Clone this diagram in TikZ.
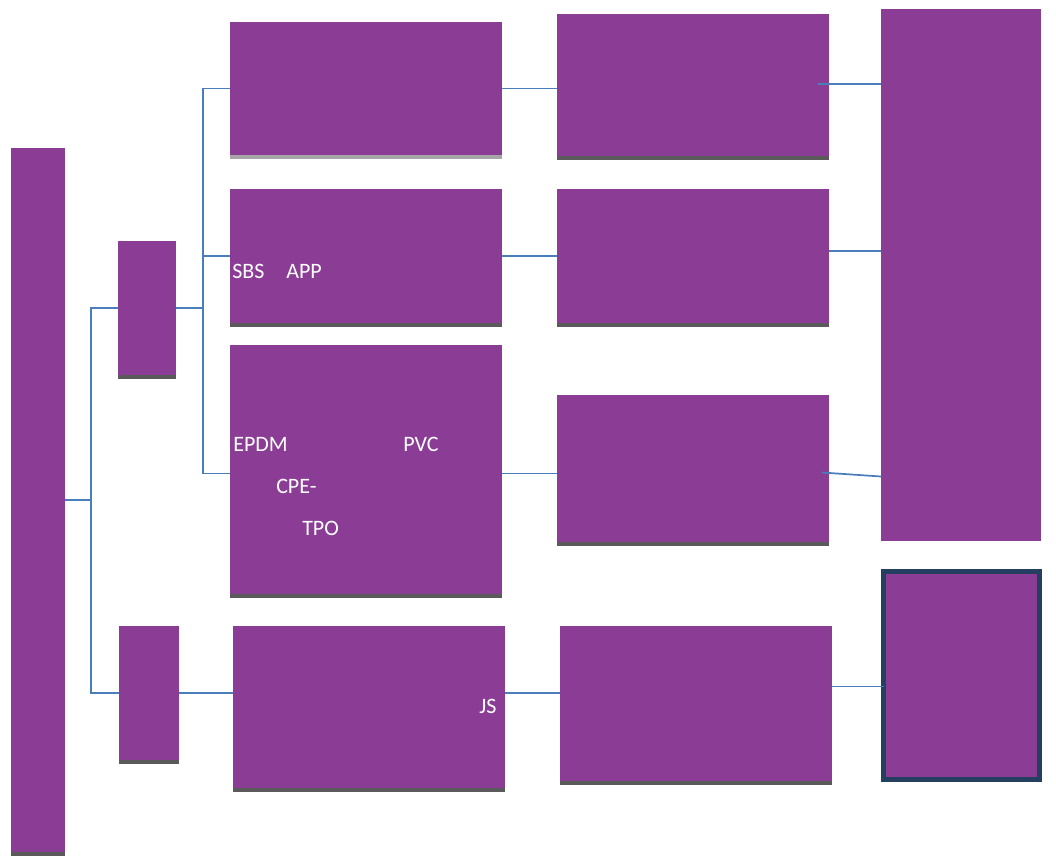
\documentclass[tikz,border=0pt]{standalone}
\usepackage{fontspec}
\setmainfont{Carlito}
\usepackage{xcolor}
\usetikzlibrary{fit,calc}
\definecolor{boxP}{HTML}{8B3D96}
\definecolor{shd}{HTML}{5A5A5A}
\definecolor{shdL}{HTML}{A6A6A6}
\definecolor{lnk}{HTML}{4A7EBB}
\definecolor{frm}{HTML}{243F60}
\tikzset{
  bar/.style={fill=boxP,inner sep=0pt,outer sep=0pt},
  link/.style={draw=lnk,line width=1.3pt},
  lbl/.style={text=white,inner sep=0pt,anchor=base west,font=\fontsize{16.5}{18}\selectfont}
}
% gray strip under a box
\newcommand{\under}[2][shd]{\fill[#1] (#2.south west) rectangle ($(#2.south east)+(0,4)$);}

\begin{document}
\begin{tikzpicture}[x=0.75pt,y=-0.75pt]
\useasboundingbox (0,0) rectangle (1056,857);
% left column
\node[bar,fit={(11,148)(65,852)}] (root) {};
\node[bar,fit={(118,241)(176,375)}] (grpA) {};
\node[bar,fit={(119,626)(179,760)}] (grpB) {};
% middle columns
\node[bar,fit={(230,22)(502,155)}] (A1) {};
\node[bar,fit={(230,189)(502,323)}] (A2) {};
\node[bar,fit={(230,345)(502,594)}] (A3) {};
\node[bar,fit={(233,626)(505,788)}] (B) {};
\node[bar,fit={(557,14)(829,156)}] (C1) {};
\node[bar,fit={(557,189)(829,323)}] (C2) {};
\node[bar,fit={(557,395)(829,542)}] (C3) {};
\node[bar,fit={(560,626)(832,781)}] (C4) {};
% right column
\node[bar,fit={(881,9)(1041,541)}] (D1) {};
\node[bar,draw=frm,line width=3.75pt,fit={(883.5,571.5)(1039.5,779.5)}] (D2) {};
\under[shdL]{A1}
\foreach \n in {root,grpA,grpB,A2,A3,B,C1,C2,C3,C4} {\under{\n}}
% connectors
\draw[link] (root.east) -- ++(26,0) |- (grpA.west);
\draw[link] (root.east) -- ++(26,0) |- (grpB.west);
\draw[link] (grpA.east) -- ++(27,0) |- (A1.west);
\draw[link] (grpA.east) -- ++(27,0) |- (A2.west);
\draw[link] (grpA.east) -- ++(27,0) |- ($(A3.west)+(0,4)$);
\draw[link] (A1.east) -- (A1.east -| C1.west);
\draw[link] (A2.east) -- (A2.east -| C2.west);
\draw[link] ($(A3.east)+(0,4)$) -- ($(A3.east -| C3.west)+(0,4)$);
\draw[link] (grpB.east) -- (grpB.east -| B.west);
\draw[link] ($(B.east)+(0,-14)$) -- ($(B.east -| C4.west)+(0,-14)$);
\draw[link] ($(C1.east)+(-11,-1)$) -- ($(C1.east -| D1.west)+(0,-1)$);
\draw[link] ($(C2.east)+(0,-5)$) -- ($(C2.east -| D1.west)+(0,-5)$);
\draw[link] ($(C3.east)+(-7,4)$) -- ($(C3.east -| D1.west)+(0,8)$);
\draw[link] ($(C4.east)+(0,-17)$) -- ($(C4.east -| D2.west)+(0,-17)$);
% labels
\node[lbl] (sbs) at (232,278) {SBS};
\node[lbl] (app) at (286,278) {APP};
\node[lbl] (epdm) at (233,451) {EPDM};
\node[lbl] (pvc) at (403,451) {PVC};
\node[lbl] (cpe) at (276,493) {CPE-};
\node[lbl] (tpo) at (302,535) {TPO};
\node[lbl] (js) at (479,713) {JS};
\end{tikzpicture}
\end{document}
